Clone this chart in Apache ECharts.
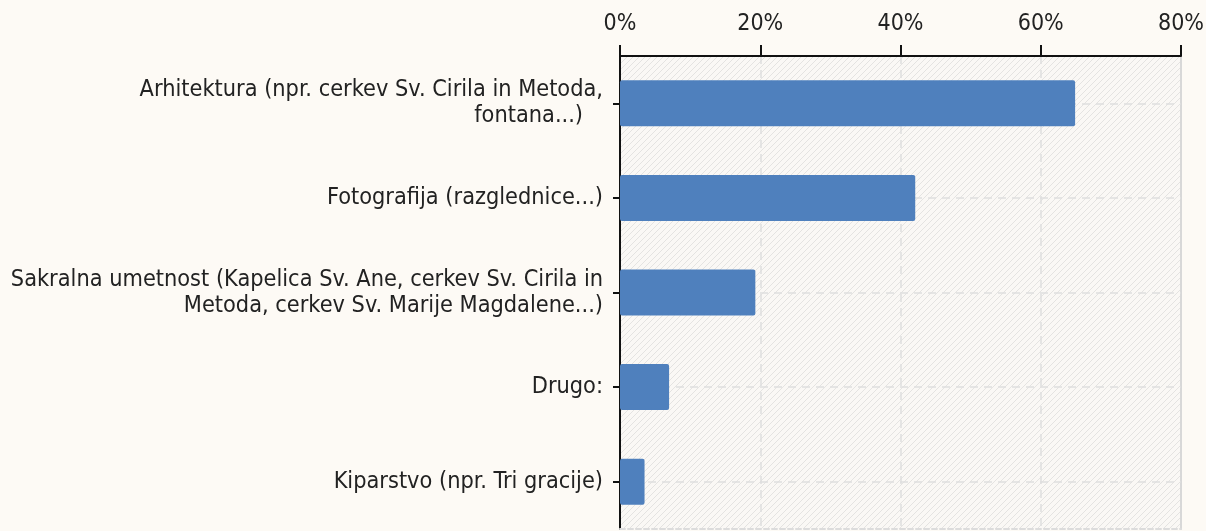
<!DOCTYPE html>
<html>
<head>
<meta charset="utf-8">
<script src="https://cdn.jsdelivr.net/npm/echarts@6/dist/echarts.min.js"></script>
<style>
  html, body { margin: 0; padding: 0; background: #fdfaf5; }
  #chart { width: 1206px; height: 531px; }
</style>
</head>
<body>
<div id="chart"></div>
<script>
const categories = [
  'Arhitektura (npr. cerkev Sv. Cirila in Metoda,\nfontana...)   ',
  'Fotografija (razglednice...)',
  'Sakralna umetnost (Kapelica Sv. Ane, cerkev Sv. Cirila in\nMetoda, cerkev Sv. Marije Magdalene...)',
  'Drugo:',
  'Kiparstvo (npr. Tri gracije)'
];
const values = [64.9, 42.1, 19.3, 7.0, 3.5];
const axisMin = 0, axisMax = 80, axisStep = 20;

const FONT = "'DejaVu Sans Condensed', 'Liberation Sans Narrow', sans-serif";

// hatch pattern for plot background
const tile = document.createElement('canvas');
tile.width = 6; tile.height = 6;
const tc = tile.getContext('2d');
tc.fillStyle = '#faf8f5';
tc.fillRect(0, 0, 6, 6);
tc.strokeStyle = '#e4e3e1';
tc.lineWidth = 1;
tc.beginPath();
tc.moveTo(-1, 7); tc.lineTo(7, -1);
tc.moveTo(-7, 7); tc.lineTo(1, -1);
tc.moveTo(5, 7); tc.lineTo(13, -1);
tc.stroke();

const chart = echarts.init(document.getElementById('chart'), null, { renderer: 'canvas' });
chart.setOption({
  backgroundColor: '#fdfaf5',
  animation: false,
  grid: {
    left: 620, right: 25, top: 56, bottom: 2,
    outerBoundsMode: 'none', containLabel: false,
    show: true, borderWidth: 0,
    backgroundColor: { image: tile, repeat: 'repeat' }
  },
  xAxis: [{
    type: 'value', position: 'top',
    min: axisMin, max: axisMax, interval: axisStep,
    axisLine: { show: true, lineStyle: { color: '#111', width: 2 } },
    axisTick: { show: true, length: 11, lineStyle: { color: '#111', width: 2 } },
    axisLabel: { formatter: '{value}%', color: '#222', fontFamily: FONT, fontSize: 23, margin: 20 },
    splitLine: { show: true, lineStyle: { color: '#dedede', type: [8, 6], width: 1.5 } }
  }, {
    type: 'value', position: 'bottom',
    min: axisMin, max: axisMax, interval: axisStep,
    axisLine: { show: true, onZero: false, lineStyle: { color: '#dcdcdc', type: [5, 3], width: 2 } },
    axisTick: { show: false }, axisLabel: { show: false }, splitLine: { show: false }
  }],
  yAxis: [{
    type: 'category', inverse: true, data: categories,
    axisLine: { show: true, lineStyle: { color: '#111', width: 2 } },
    axisTick: { show: true, alignWithLabel: true, length: 7, lineStyle: { color: '#111', width: 2 } },
    axisLabel: { color: '#222', fontFamily: FONT, fontSize: 23.3, lineHeight: 26, margin: 17, align: 'right' },
    splitLine: { show: false }
  }, {
    type: 'category', inverse: true, data: categories, position: 'right',
    axisLine: { show: true, onZero: false, lineStyle: { color: '#d8d8d8', width: 2 } },
    axisTick: { show: false }, axisLabel: { show: false }, splitLine: { show: false }
  }],
  series: [{
    type: 'line', data: [], z: 1, xAxisIndex: 0, yAxisIndex: 0,
    silent: true,
    markLine: {
      z: 1, silent: true, symbol: 'none', label: { show: false },
      lineStyle: { color: '#dedede', type: [8, 6], width: 1.5 },
      data: categories.map(c => ({ yAxis: c }))
    }
  }, {
    type: 'bar', data: values, z: 3, barWidth: 46,
    itemStyle: { color: '#4f80bd', borderRadius: 2 }
  }]
});
</script>
</body>
</html>
